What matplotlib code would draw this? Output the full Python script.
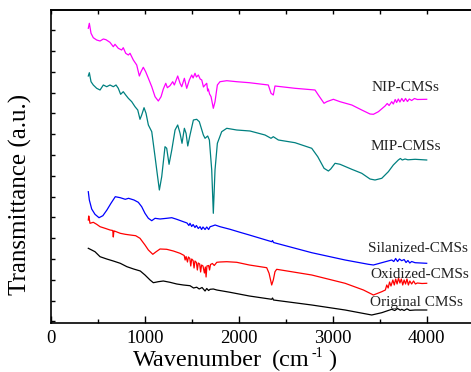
import matplotlib
matplotlib.use("Agg")
import matplotlib.pyplot as plt
import numpy as np
from matplotlib.ticker import MultipleLocator, NullFormatter

plt.rcParams['font.family'] = ['Liberation Serif', 'DejaVu Serif']

# (wavenumber cm-1, transmittance a.u.)
nip = [(400,294.7),(411,299.7),(429,289.7),(453,285.3),(489,283),(525,282),(560,284),(588,283.3),
       (630,280.7),(666,276.3),(684,278.7),(719,274.7),(755,273),(772,275.3),(798,269.7),(826,268),
       (844,269.7),(879,263),(915,258),(943,247),(961,251.3),(985,255.7),(1010,251.3),(1039,244.7),
       (1075,236.3),(1110,226.3),(1145,222),(1174,226.3),(1198,234),(1224,239.7),(1241,235.3),
       (1269,237.3),(1298,241.3),(1315,238),(1351,247),(1376,239.7),(1394,236.3),(1422,244.7),
       (1447,234.7),(1475,243),(1500,248),(1515,245),(1535,249.7),(1550,246),(1571,248),(1590,244),
       (1607,243),(1625,236),(1642,238),(1660,239.7),(1670,232),(1677,234),(1690,229),(1706,226.3),
       (1730,214.7),(1748,221.3),(1773,238),(1801,241.3),(1873,242.3),(1979,241.3),(2113,240.3),
       (2315,238),(2344,229.7),(2368,228),(2386,237),(2599,234.7),(2812,233),(2847,228),(2908,219.7),
       (2937,221.3),(3007,223.7),(3078,221.3),(3203,218),(3309,213),(3397,209),(3433,208.7),
       (3486,211.3),(3557,217),(3580,219.5),(3600,217.5),(3628,221.3),(3645,219),(3665,223.5),
       (3680,220.5),(3698,224),(3715,221),(3735,224.5),(3755,221.5),(3775,224.5),(3795,221.5),
       (3815,224),(3840,222.5),(3870,224.5),(3900,223.5),(4000,223.7)]

mip = [(400,247),(411,250.3),(429,241.3),(453,238),(489,234.7),(525,233),(560,238),(596,236.3),
       (631,238),(666,236.3),(695,238),(719,234.7),(744,228.7),(772,231.3),(798,228),(826,224.7),
       (862,221.3),(897,216.3),(926,213),(950,203.7),(968,208),(993,215.3),(1014,209.7),(1039,198),
       (1075,191.3),(1110,166.3),(1135,148),(1156,133),(1181,146.3),(1216,176.3),(1234,174.7),
       (1259,158.7),(1288,173),(1323,193),(1351,198),(1376,189.7),(1397,179.7),(1422,194.7),
       (1440,189.7),(1458,177),(1482,188),(1518,203),(1553,203.7),(1581,201.3),(1624,188),
       (1642,184.7),(1670,187),(1688,183),(1713,153),(1730,109.7),(1748,153),(1773,179.7),
       (1819,191.3),(1873,194.7),(1979,193),(2120,192),(2280,188),(2344,184.7),(2368,186.3),
       (2422,183),(2599,180.3),(2777,174.7),(2841,166.3),(2908,154.7),(2954,152),(2979,154),
       (3025,159.7),(3078,158.7),(3203,153.7),(3309,149.7),(3397,144),(3450,143),(3522,144.7),
       (3592,151.3),(3645,158),(3698,163),(3720,164.5),(3740,163),(3770,164),(3800,163.2),
       (3877,163.7),(4000,163)]

silanized = [(400,131.3),(411,123),(436,114),(471,108.7),(514,105.3),(555,107.3),(598,113),(641,119.7),
       (687,126.3),(740,125.3),(793,123.7),(828,124.7),(886,123),(932,120.7),(968,116.3),(1003,109.7),
       (1039,104.7),(1075,102.3),(1110,104.7),(1163,104),(1234,104.7),(1288,105.3),(1341,103.7),
       (1411,101.3),(1450,100),(1470,97.5),(1482,99.7),(1500,96.5),(1515,98.5),(1535,95.5),(1550,97.5),
       (1570,94.5),(1589,96.3),(1605,93.5),(1620,96),(1642,93.5),(1660,96),(1680,93.5),(1696,96.3),
       (1720,97),(1749,98),(1780,97),(1802,96.3),(1908,93.7),(2014,90.7),(2113,88),(2351,81.3),
       (2360,82.5),(2370,80.5),(2777,70.3),(3132,63),(3380,58.7),(3433,58),(3522,60.3),(3628,63),
       (3650,61.5),(3670,64.5),(3690,61.5),(3710,64),(3734,62.3),(3760,63.5),(3780,60.5),(3800,62.5),
       (3820,60),(3840,61.5),(3876,60.3),(4000,59.7)]

oxidized = [(400,103),(405,107),(418,99.7),(453,100.7),(489,98.7),(525,96.3),(578,94.7),(631,93),
       (660,92.5),(666,86),(672,92),(677,92),(740,89.7),(793,88.7),(846,88),(904,87.3),(950,84.7),
       (1003,78),(1039,73),(1086,68.7),(1122,71.3),(1163,74),(1234,73.7),(1305,72),(1376,69.7),
       (1420,67.5),(1430,63),(1440,66.5),(1455,61),(1465,66),(1480,64.5),(1490,57),(1500,64),
       (1515,62.5),(1525,55),(1535,62),(1550,60.5),(1560,53),(1570,60),(1585,59),(1595,51),(1605,58),
       (1620,57),(1635,50),(1645,56),(1653,46),(1662,57),(1680,57.5),(1690,53),(1700,58.5),(1720,59.5),
       (1740,57.5),(1767,60.7),(1800,61),(1873,61.3),(1979,60.7),(2113,58),(2298,55.3),(2323,49.7),
       (2351,38),(2368,43),(2386,51.3),(2404,53.7),(2777,48),(3132,39.7),(3327,33),(3433,28),
       (3522,31.3),(3560,33),(3575,38),(3590,35),(3605,41),(3620,37),(3640,43),(3655,38),(3670,44),
       (3685,39),(3700,45),(3715,40),(3730,44),(3745,38),(3760,43),(3775,39),(3790,44),(3805,38),
       (3820,42),(3840,39),(3860,42),(3880,39),(3900,40),(3950,39.5),(4000,39.7)]

original = [(400,74.7),(436,73),(471,71.3),(525,66.3),(596,64),(666,62),(740,59.7),(811,56.3),(882,54),
       (953,52),(1003,48),(1057,43),(1092,40.3),(1145,41.3),(1198,42),(1269,40.7),(1341,39),(1411,38),
       (1482,37.3),(1520,35),(1553,35.8),(1580,34),(1610,35.5),(1642,32),(1660,34.5),(1680,32.5),
       (1696,33.7),(1730,34),(1767,33),(1908,30.7),(2113,27),(2351,23.7),(2360,25),(2370,23),
       (2777,18),(3132,13),(3415,8),(3522,10.3),(3628,13.7),(3660,12.5),(3690,14.5),(3720,12.8),
       (3734,13.7),(3760,12.5),(3790,14.2),(3820,12.6),(3876,13),(4000,13)]

series_names = ["NIP-CMSs", "MIP-CMSs", "Silanized-CMSs", "Oxidized-CMSs", "Original CMSs"]
series_colors = ["#FF00FF", "#008080", "#0000FF", "#FF0000", "#000000"]
series_data = [nip, mip, silanized, oxidized, original]
label_pos = [(3770, 235.7), (3782, 176.3), (3908, 74.7), (3924, 48.7), (3892, 20.3)]

W, H = 471, 372
fig = plt.figure(figsize=(W/100, H/100), dpi=100)
left, right, top, bottom = 50.7, 473.7, 10, 323
ax = fig.add_axes([left/W, 1-bottom/H, (right-left)/W, (bottom-top)/H])

for data, c in zip(series_data, series_colors):
    d = np.array(data)
    ax.plot(d[:, 0], d[:, 1], color=c, lw=0.9)

for name, (x, y) in zip(series_names, label_pos):
    ax.text(x, y, name, ha='center', va='center', fontsize=11, color='#222222')

ax.set_xlim(0, 4500)
ax.set_ylim(0, 313)
ax.xaxis.set_major_locator(MultipleLocator(1000))
ax.xaxis.set_minor_locator(MultipleLocator(500))
ax.set_yticks(np.arange(1.6, 313, 20.8))
ax.yaxis.set_major_formatter(NullFormatter())
ax.tick_params(axis='x', which='major', direction='in', length=5, width=1, labelsize=13.5, pad=5)
ax.tick_params(axis='x', which='minor', direction='in', length=3, width=1)
ax.tick_params(axis='y', which='major', direction='in', length=3, width=1, left=True, right=False)
secx = ax.secondary_xaxis('top')
secx.set_xticks(np.arange(0, 4501, 500))
secx.tick_params(direction='in', length=3, width=1, labeltop=False)
secx.xaxis.set_major_formatter(NullFormatter())
for s in list(ax.spines.values()) + list(secx.spines.values()):
    s.set_linewidth(1.2)

# x label built from pieces (wide parentheses spacing as in the reference)
renderer = fig.canvas.get_renderer()
base_y = 1 - 366/H
t1 = fig.text(133/W, base_y, "Wavenumber", ha='left', va='baseline', fontsize=17.5)
bb = t1.get_window_extent(renderer)
t1b = fig.text((bb.x1 + 10)/W, base_y, "(cm", ha='left', va='baseline', fontsize=17.5)
bb = t1b.get_window_extent(renderer)
t2 = fig.text((bb.x1 + 2)/W, 1 - 357/H, "-1", ha='left', va='baseline', fontsize=10)
bb2 = t2.get_window_extent(renderer)
fig.text((bb2.x1 + 5)/W, base_y, ")", ha='left', va='baseline', fontsize=17.5)

fig.text(20/W, 1-194/H, "Transmittance (a.u.)", ha='center', va='center', fontsize=18, rotation=90)

fig.savefig("out.png", dpi=100)
